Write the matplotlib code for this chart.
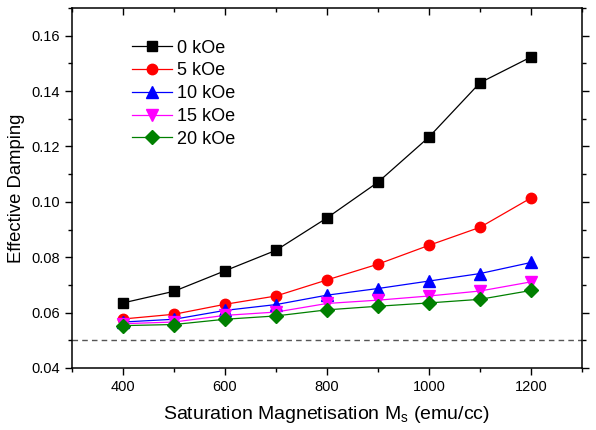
import matplotlib
matplotlib.use("Agg")
import matplotlib.pyplot as plt
from matplotlib.ticker import MultipleLocator

plt.rcParams["font.family"] = ["Liberation Sans", "DejaVu Sans"]

ms = [400, 500, 600, 700, 800, 900, 1000, 1100, 1200]
damp_0koe = [0.0635, 0.0677, 0.0751, 0.0825, 0.0942, 0.1071, 0.1234, 0.1430, 0.1523]
damp_5koe = [0.0577, 0.0594, 0.0630, 0.0660, 0.0718, 0.0775, 0.0843, 0.0908, 0.1014]
damp_10koe = [0.0566, 0.0576, 0.0608, 0.0629, 0.0663, 0.0687, 0.0714, 0.0741, 0.0781]
damp_15koe = [0.0560, 0.0566, 0.0590, 0.0602, 0.0633, 0.0645, 0.0660, 0.0678, 0.0711]
damp_20koe = [0.0553, 0.0557, 0.0576, 0.0588, 0.0610, 0.0623, 0.0635, 0.0648, 0.0680]
labels = ["0 kOe", "5 kOe", "10 kOe", "15 kOe", "20 kOe"]
intrinsic = 0.05

series = [damp_0koe, damp_5koe, damp_10koe, damp_15koe, damp_20koe]
colors = ["black", "red", "blue", "magenta", "green"]
markers = ["s", "o", "^", "v", "D"]
msizes = [6.5, 7.5, 8, 8, 7]

fig = plt.figure(figsize=(5.96, 4.30), dpi=100)
ax = fig.add_axes([0.1208, 0.1442, 0.8557, 0.8372])

for y, c, m, s, lab in zip(series, colors, markers, msizes, labels):
    ax.plot(ms, y, color=c, marker=m, markersize=s, linewidth=0.9, label=lab)

ax.axhline(intrinsic, color="#555555", linestyle=(0, (4, 3)), linewidth=1)

ax.set_xlim(300, 1300)
ax.set_ylim(0.04, 0.17)
ax.xaxis.set_major_locator(MultipleLocator(200))
ax.xaxis.set_minor_locator(MultipleLocator(100))
ax.yaxis.set_major_locator(MultipleLocator(0.02))
ax.yaxis.set_minor_locator(MultipleLocator(0.01))
ax.yaxis.set_major_formatter(plt.FuncFormatter(lambda v, p: f"{v:.2f}"))

ax.tick_params(which="both", direction="out", labelsize=10.5, width=1)
ax.tick_params(which="major", length=5)
ax.tick_params(which="minor", length=3)
ax.tick_params(which="both", top=True, right=True)
for sp in ax.spines.values():
    sp.set_linewidth(1.1)
# mirrored ticks on top/right point inward
for t in ax.xaxis.get_ticklines(minor=False)[1::2] + ax.xaxis.get_ticklines(minor=True)[1::2]:
    t.set_marker(3)
for t in ax.yaxis.get_ticklines(minor=False)[1::2] + ax.yaxis.get_ticklines(minor=True)[1::2]:
    t.set_marker(1)

ax.set_xlabel("Saturation Magnetisation M$_\\mathregular{s}$ (emu/cc)", fontsize=14, labelpad=7)
ax.set_ylabel("Effective Damping", fontsize=13.3, labelpad=5)

ax.legend(loc="upper left", bbox_to_anchor=(0.10, 0.937), frameon=False, fontsize=13,
          handlelength=2.2, handletextpad=0.3, labelspacing=0.32, borderpad=0)

fig.savefig("out.png", dpi=100)
